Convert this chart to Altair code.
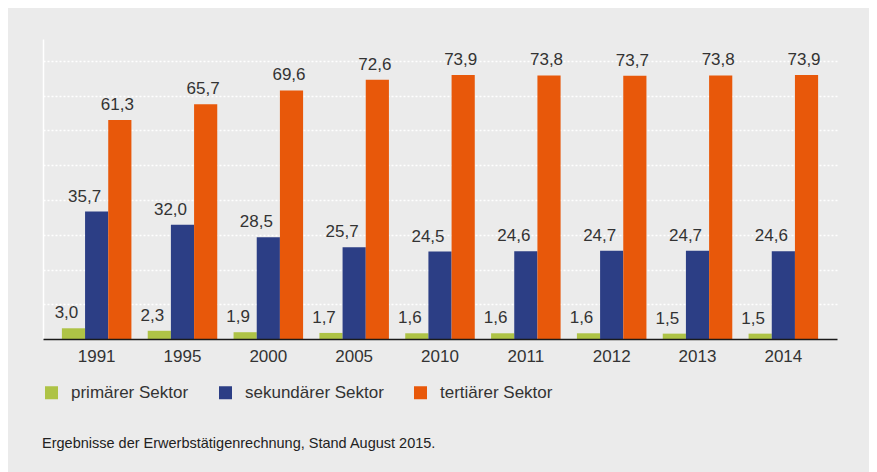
import altair as alt
import pandas as pd

# ---- data ----
years = ["1991", "1995", "2000", "2005", "2010", "2011", "2012", "2013", "2014"]
sectors = ["primärer Sektor", "sekundärer Sektor", "tertiärer Sektor"]
primaer = [3.0, 2.3, 1.9, 1.7, 1.6, 1.6, 1.6, 1.5, 1.5]
sekundaer = [35.7, 32.0, 28.5, 25.7, 24.5, 24.6, 24.7, 24.7, 24.6]
tertiaer = [61.3, 65.7, 69.6, 72.6, 73.9, 73.8, 73.7, 73.8, 73.9]
colors = ["#AEC346", "#2C3E85", "#E8580A"]
note = "Ergebnisse der Erwerbstätigenrechnung, Stand August 2015."

rows = []
for s, vals in zip(sectors, [primaer, sekundaer, tertiaer]):
    for yr, v in zip(years, vals):
        rows.append({"Jahr": yr, "Sektor": s, "Wert": v,
                     "Label": f"{v:.1f}".replace(".", ",")})
df = pd.DataFrame(rows)

FONT = "Liberation Sans"
FS = 17
grid_vals = [round(9.73 * k, 2) for k in range(1, 9)]

x_enc = alt.X(
    "Jahr:N", sort=years, title=None,
    scale=alt.Scale(paddingInner=0.19, paddingOuter=0.22),
    axis=alt.Axis(labelAngle=0, labelFontSize=FS, labelColor="#333333",
                  labelFont=FONT, ticks=False, labelPadding=9,
                  domainColor="#1a1a1a", domainWidth=1.5, zindex=1),
)
xo_enc = alt.XOffset("Sektor:N", sort=sectors,
                     scale=alt.Scale(domain=sectors, paddingInner=0, paddingOuter=0))
y_enc = alt.Y(
    "Wert:Q", title=None,
    scale=alt.Scale(domain=[0, 84], nice=False, zero=True),
    axis=alt.Axis(labels=False, ticks=False, domainColor="white",
                  domainWidth=1.5, grid=True, gridColor="white",
                  gridDash=[2, 2], gridWidth=1.5, values=grid_vals),
)

base = alt.Chart(df)

bars = base.mark_bar().encode(
    x=x_enc, xOffset=xo_enc, y=y_enc,
    color=alt.Color(
        "Sektor:N", sort=sectors,
        scale=alt.Scale(domain=sectors, range=colors),
        legend=alt.Legend(
            title=None, orient="none", legendX=0, legendY=345,
            direction="horizontal", columns=3, symbolType="square",
            symbolSize=169, symbolStrokeWidth=0, symbolOpacity=1,
            labelFontSize=FS, labelFont=FONT, labelColor="#333333",
            labelOffset=11, columnPadding=28,
        ),
    ),
)

layers = [bars]
for s, dx in zip(sectors, [-7, -12, -2.5]):
    layers.append(
        base.transform_filter(alt.datum.Sektor == s)
        .mark_text(dx=dx, dy=-10, baseline="alphabetic", fontSize=FS,
                   font=FONT, color="#333333")
        .encode(x=x_enc, xOffset=xo_enc, y=y_enc, text="Label:N")
    )

footnote = alt.Chart(pd.DataFrame({"t": [note]})).mark_text(
    align="left", baseline="alphabetic", fontSize=14.5, font=FONT, color="#222222"
).encode(x=alt.value(-1), y=alt.value(409), text="t:N")
layers.append(footnote)

chart = alt.layer(*layers).properties(
    width=794, height=300,
    autosize=alt.AutoSizeParams(type="none"),
    padding={"left": 35, "top": 31, "right": 32, "bottom": 133},
    background="#EBEBEB",
).configure_view(stroke=None)

chart.save("out.html", embed_options={"renderer": "svg", "actions": False})
